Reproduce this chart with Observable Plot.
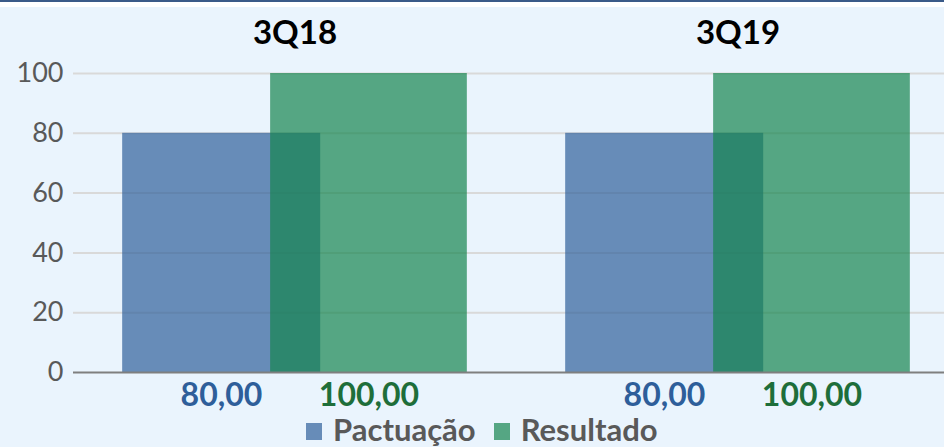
<!DOCTYPE html>
<html>
<head>
<meta charset="utf-8">
<script src="https://cdn.jsdelivr.net/npm/d3@7"></script>
<script src="https://cdn.jsdelivr.net/npm/@observablehq/plot@0.6"></script>
<style>
  html, body { margin: 0; padding: 0; }
  #wrap {
    position: relative; width: 944px; height: 447px; overflow: hidden;
    background: linear-gradient(#3A5A88 0px, #3A5A88 2px, #ffffff 2px, #ffffff 7px, #EAF4FD 7px);
    font-family: Lato, "Open Sans", sans-serif;
  }
  #legend {
    position: absolute; left: 306px; top: 414px; height: 30px; display: flex; align-items: center;
    font-weight: bold; font-size: 31px; color: #595959; white-space: nowrap; line-height: 30px;
  }
  #legend .sw { display: inline-block; width: 16px; height: 17px; margin-right: 11px; margin-top: 4px; }
</style>
</head>
<body>
<div id="wrap"><div id="chart"></div><div id="legend"></div></div>
<script>
const categories = ["3Q18", "3Q19"];
const pactuacao = [80, 80];
const resultado = [100, 100];
const yTicks = [0, 20, 40, 60, 80, 100];
const seriesNames = ["Pactuação", "Resultado"];
const seriesColors = ["#2F5F9A", "#15854F"];
const labelColors = ["#2E5E9A", "#1E6E3A"];

const rows = categories.map((c, i) => ({cat: c, i, p: pactuacao[i], r: resultado[i]}));
const fmt = v => v.toFixed(2).replace(".", ",");

const chart = Plot.plot({
  width: 944,
  height: 447,
  marginLeft: 73,
  marginRight: 0,
  marginTop: 73,
  marginBottom: 75,
  style: {background: "transparent", fontFamily: "Lato, 'Open Sans', sans-serif"},
  x: {type: "linear", domain: [-0.5, 1.5], range: [73, 959], axis: null},
  y: {domain: [0, 100], ticks: yTicks, label: null},
  marks: [
    Plot.ruleY(yTicks.filter(t => t > 0), {stroke: "#D9D9D9", strokeWidth: 2}),
    Plot.rectY(rows, {x1: d => d.i - 0.389, x2: d => d.i + 0.058, y1: 0, y2: "p", fill: seriesColors[0], fillOpacity: 0.7}),
    Plot.rectY(rows, {x1: d => d.i - 0.055, x2: d => d.i + 0.389, y1: 0, y2: "r", fill: seriesColors[1], fillOpacity: 0.7}),
    Plot.ruleY([0], {stroke: "#7F7F7F", strokeWidth: 2}),
    Plot.axisY({ticks: yTicks, tickSize: 0, tickPadding: 10, fontSize: 27, fill: "#595959", label: null}),
    Plot.text(rows, {x: "i", text: "cat", frameAnchor: "top", lineAnchor: "middle", dy: -40, fontSize: 33, fontWeight: "bold", fill: "#000"}),
    Plot.text(rows, {x: d => d.i - 0.166, text: d => fmt(d.p), frameAnchor: "bottom", lineAnchor: "middle", dy: 23, fontSize: 32, fontWeight: "bold", fill: labelColors[0]}),
    Plot.text(rows, {x: d => d.i + 0.167, text: d => fmt(d.r), frameAnchor: "bottom", lineAnchor: "middle", dy: 23, fontSize: 32, fontWeight: "bold", fill: labelColors[1]})
  ]
});
document.getElementById("chart").appendChild(chart);

const legend = document.getElementById("legend");
seriesNames.forEach((name, k) => {
  const item = document.createElement("span");
  item.style.display = "inline-flex";
  item.style.alignItems = "center";
  item.style.marginRight = k === 0 ? "18px" : "0";
  const sw = document.createElement("span");
  sw.className = "sw";
  sw.style.background = seriesColors[k];
  sw.style.opacity = 0.7;
  item.appendChild(sw);
  item.appendChild(document.createTextNode(name));
  legend.appendChild(item);
});
</script>
</body>
</html>
